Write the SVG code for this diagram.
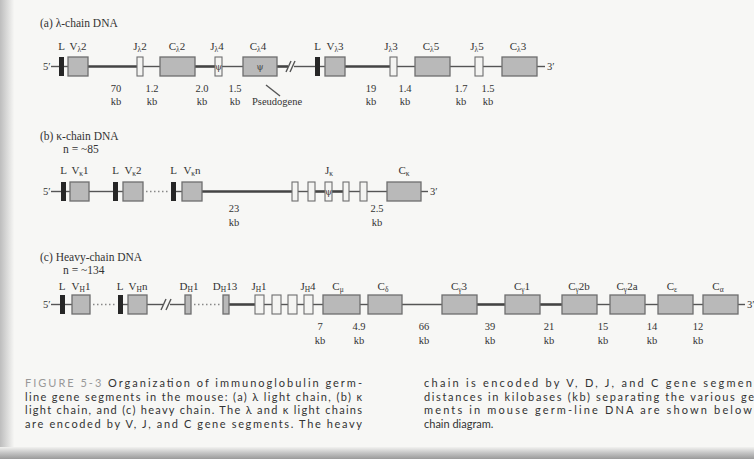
<svg xmlns="http://www.w3.org/2000/svg" width="754" height="459" viewBox="0 0 754 459">
<defs>
<linearGradient id="lg" x1="0" y1="0" x2="1" y2="0"><stop offset="0" stop-color="#bdbdbd"/><stop offset="1" stop-color="#f6f6f4"/></linearGradient>
<linearGradient id="bg" x1="0" y1="0" x2="0" y2="1"><stop offset="0" stop-color="#f2f2f0"/><stop offset="0.5" stop-color="#c4c4c4"/><stop offset="1" stop-color="#9a9a9a"/></linearGradient>
<style>
.g{fill:#b9b9b9;stroke:#6e6e6e;stroke-width:1.3}
.w{fill:#f4f4f2;stroke:#6e6e6e;stroke-width:1.1}
.b{fill:#262626}
.ln{stroke:#555;stroke-width:1.4;fill:none}
.th{stroke:#444;stroke-width:2.6;fill:none}
.dot{stroke:#888;stroke-width:1.3;stroke-dasharray:1.5 2.5;fill:none}
text{font-family:"Liberation Serif","DejaVu Serif",serif;fill:#333}
.t{font-size:11.5px}
.l{font-size:11px;text-anchor:middle}
.n{font-size:10.5px;text-anchor:middle}
.s{font-size:7.5px}
.c{font-family:Lato,"Open Sans",sans-serif;font-size:11px;fill:#333}
.fig{fill:#999}
.psi{font-family:"DejaVu Serif",serif;font-size:9px;text-anchor:middle;fill:#444}
</style>
</defs>
<rect width="754" height="459" fill="#f7f7f5"/>
<rect width="14" height="459" fill="url(#lg)"/>
<rect y="447" width="754" height="12" fill="url(#bg)"/>

<!-- (a) lambda chain -->
<text class="t" x="40" y="27">(a) λ-chain DNA</text>
<g id="connectors-a">
<text class="n" x="43" y="70" style="text-anchor:start">5′</text>
<line class="ln" x1="51" y1="66.5" x2="59" y2="66.5"/>
<line class="ln" x1="64" y1="66.5" x2="68" y2="66.5"/>
<line class="th" x1="88" y1="66.5" x2="137" y2="66.5"/>
<line class="ln" x1="143" y1="66.5" x2="160" y2="66.5"/>
<line class="th" x1="195" y1="66.5" x2="215" y2="66.5"/>
<line class="ln" x1="222" y1="66.5" x2="243" y2="66.5"/>
<line class="th" x1="277" y1="66.5" x2="288" y2="66.5"/>
<line class="ln" x1="286" y1="72" x2="291" y2="61"/>
<line class="ln" x1="290" y1="72" x2="295" y2="61"/>
<line class="ln" x1="294" y1="66.5" x2="315" y2="66.5"/>
<line class="th" x1="345" y1="66.5" x2="390" y2="66.5"/>
<line class="ln" x1="397" y1="66.5" x2="415" y2="66.5"/>
<line class="ln" x1="450" y1="66.5" x2="475" y2="66.5"/>
<line class="ln" x1="483" y1="66.5" x2="502" y2="66.5"/>
<line class="ln" x1="537" y1="66.5" x2="545" y2="66.5"/>
<text class="n" x="547" y="70" style="text-anchor:start">3′</text>
<line class="ln" x1="266" y1="85" x2="280" y2="96"/>
</g>
<g id="a-LV2"><rect class="b" x="59" y="57" width="5" height="19"/><rect class="g" x="68" y="57" width="20" height="19"/>
<text class="l" x="61.5" y="50">L</text><text class="l" x="78" y="50">V<tspan class="s" dy="2">λ</tspan><tspan dy="-2">2</tspan></text></g>
<g id="a-J2"><rect class="w" x="137" y="57" width="6" height="19"/><text class="l" x="140" y="50">J<tspan class="s" dy="2">λ</tspan><tspan dy="-2">2</tspan></text></g>
<g id="a-C2"><rect class="g" x="160" y="57" width="35" height="19"/><text class="l" x="177" y="50">C<tspan class="s" dy="2">λ</tspan><tspan dy="-2">2</tspan></text></g>
<g id="a-J4"><rect class="w" x="215" y="57" width="7" height="19"/><text class="psi" x="218.5" y="70">ψ</text><text class="l" x="217" y="50">J<tspan class="s" dy="2">λ</tspan><tspan dy="-2">4</tspan></text></g>
<g id="a-C4"><rect class="g" x="243" y="57" width="34" height="19"/><text class="psi" x="260" y="70">ψ</text><text class="l" x="258" y="50">C<tspan class="s" dy="2">λ</tspan><tspan dy="-2">4</tspan></text></g>
<g id="a-LV3"><rect class="b" x="315" y="57" width="5" height="19"/><line class="ln" x1="320" y1="66.5" x2="325" y2="66.5"/><rect class="g" x="325" y="57" width="20" height="19"/>
<text class="l" x="317.5" y="50">L</text><text class="l" x="335" y="50">V<tspan class="s" dy="2">λ</tspan><tspan dy="-2">3</tspan></text></g>
<g id="a-J3"><rect class="w" x="390" y="57" width="7" height="19"/><text class="l" x="391" y="50">J<tspan class="s" dy="2">λ</tspan><tspan dy="-2">3</tspan></text></g>
<g id="a-C5"><rect class="g" x="415" y="57" width="35" height="19"/><text class="l" x="431" y="50">C<tspan class="s" dy="2">λ</tspan><tspan dy="-2">5</tspan></text></g>
<g id="a-J5"><rect class="w" x="475" y="57" width="8" height="19"/><text class="l" x="477" y="50">J<tspan class="s" dy="2">λ</tspan><tspan dy="-2">5</tspan></text></g>
<g id="a-C3"><rect class="g" x="502" y="57" width="35" height="19"/><text class="l" x="518" y="50">C<tspan class="s" dy="2">λ</tspan><tspan dy="-2">3</tspan></text></g>
<g id="a-dist">
<text class="n" x="116" y="92">70</text><text class="n" x="116" y="105">kb</text>
<text class="n" x="152" y="92">1.2</text><text class="n" x="152" y="105">kb</text>
<text class="n" x="202" y="92">2.0</text><text class="n" x="202" y="105">kb</text>
<text class="n" x="235" y="92">1.5</text><text class="n" x="235" y="105">kb</text>
<text class="n" x="252" y="105" style="text-anchor:start">Pseudogene</text>
<text class="n" x="371" y="92">19</text><text class="n" x="371" y="105">kb</text>
<text class="n" x="405" y="92">1.4</text><text class="n" x="405" y="105">kb</text>
<text class="n" x="461" y="92">1.7</text><text class="n" x="461" y="105">kb</text>
<text class="n" x="488" y="92">1.5</text><text class="n" x="488" y="105">kb</text>
</g>

<!-- (b) kappa chain -->
<text class="t" x="40" y="140">(b) κ-chain DNA</text>
<text class="t" x="63" y="153">n = ~85</text>
<g id="connectors-b">
<text class="n" x="43" y="195" style="text-anchor:start">5′</text>
<line class="ln" x1="51" y1="191.5" x2="61" y2="191.5"/>
<line class="ln" x1="66" y1="191.5" x2="70" y2="191.5"/>
<line class="ln" x1="89" y1="191.5" x2="113" y2="191.5"/>
<line class="ln" x1="118" y1="191.5" x2="123" y2="191.5"/>
<line class="dot" x1="146" y1="191.5" x2="168" y2="191.5"/>
<line class="ln" x1="176" y1="191.5" x2="182" y2="191.5"/>
<line class="th" x1="202" y1="191.5" x2="292" y2="191.5"/>
<line class="ln" x1="298" y1="191.5" x2="308" y2="191.5"/>
<line class="th" x1="315" y1="191.5" x2="325" y2="191.5"/>
<line class="th" x1="332" y1="191.5" x2="343" y2="191.5"/>
<line class="ln" x1="349" y1="191.5" x2="360" y2="191.5"/>
<line class="ln" x1="367" y1="191.5" x2="387" y2="191.5"/>
<line class="ln" x1="421" y1="191.5" x2="428" y2="191.5"/>
<text class="n" x="430" y="195" style="text-anchor:start">3′</text>
</g>
<g id="b-LV1"><rect class="b" x="61" y="182" width="5" height="19"/><rect class="g" x="70" y="182" width="19" height="19"/>
<text class="l" x="63.5" y="174">L</text><text class="l" x="80" y="174">V<tspan class="s" dy="2">κ</tspan><tspan dy="-2">1</tspan></text></g>
<g id="b-LV2"><rect class="b" x="113" y="182" width="5" height="19"/><rect class="g" x="123" y="182" width="20" height="19"/>
<text class="l" x="115.5" y="174">L</text><text class="l" x="133" y="174">V<tspan class="s" dy="2">κ</tspan><tspan dy="-2">2</tspan></text></g>
<g id="b-LVn"><rect class="b" x="171" y="182" width="5" height="19"/><rect class="g" x="182" y="182" width="20" height="19"/>
<text class="l" x="173.5" y="174">L</text><text class="l" x="192" y="174">V<tspan class="s" dy="2">κ</tspan><tspan dy="-2">n</tspan></text></g>
<g id="b-J"><rect class="w" x="292" y="182" width="6" height="19"/><rect class="w" x="308" y="182" width="7" height="19"/><rect class="w" x="325" y="182" width="7" height="19"/><text class="psi" x="328.5" y="195">ψ</text><rect class="w" x="343" y="182" width="6" height="19"/><rect class="w" x="360" y="182" width="7" height="19"/>
<text class="l" x="329" y="174">J<tspan class="s" dy="2">κ</tspan></text></g>
<g id="b-C"><rect class="g" x="387" y="182" width="34" height="19"/><text class="l" x="404" y="174">C<tspan class="s" dy="2">κ</tspan></text></g>
<g id="b-dist">
<text class="n" x="234" y="212">23</text><text class="n" x="234" y="226">kb</text>
<text class="n" x="377" y="212">2.5</text><text class="n" x="377" y="226">kb</text>
</g>

<!-- (c) heavy chain -->
<text class="t" x="40" y="261">(c) Heavy-chain DNA</text>
<text class="t" x="63" y="274">n = ~134</text>
<g id="connectors-c">
<text class="n" x="43" y="308" style="text-anchor:start">5′</text>
<line class="ln" x1="51" y1="304.5" x2="60" y2="304.5"/>
<line class="ln" x1="65" y1="304.5" x2="72" y2="304.5"/>
<line class="dot" x1="93" y1="304.5" x2="116" y2="304.5"/>
<line class="ln" x1="123" y1="304.5" x2="128" y2="304.5"/>
<line class="ln" x1="147" y1="304.5" x2="163" y2="304.5"/>
<line class="ln" x1="161" y1="310" x2="166" y2="299"/>
<line class="ln" x1="166" y1="310" x2="171" y2="299"/>
<line class="ln" x1="170" y1="304.5" x2="185" y2="304.5"/>
<line class="dot" x1="194" y1="304.5" x2="221" y2="304.5"/>
<line class="th" x1="229" y1="304.5" x2="255" y2="304.5"/>
<line class="ln" x1="264" y1="304.5" x2="272" y2="304.5"/>
<line class="ln" x1="281" y1="304.5" x2="288" y2="304.5"/>
<line class="ln" x1="297" y1="304.5" x2="304" y2="304.5"/>
<line class="ln" x1="313" y1="304.5" x2="323" y2="304.5"/>
<line class="ln" x1="360" y1="304.5" x2="368" y2="304.5"/>
<line class="ln" x1="402" y1="304.5" x2="442" y2="304.5"/>
<line class="th" x1="477" y1="304.5" x2="505" y2="304.5"/>
<line class="th" x1="540" y1="304.5" x2="562" y2="304.5"/>
<line class="ln" x1="597" y1="304.5" x2="610" y2="304.5"/>
<line class="ln" x1="645" y1="304.5" x2="658" y2="304.5"/>
<line class="ln" x1="693" y1="304.5" x2="703" y2="304.5"/>
<line class="ln" x1="738" y1="304.5" x2="745" y2="304.5"/>
<text class="n" x="747" y="308" style="text-anchor:start">3′</text>
</g>
<g id="c-LV1"><rect class="b" x="60" y="295" width="5" height="19"/><rect class="g" x="72" y="295" width="18" height="19"/>
<text class="l" x="62" y="290">L</text><text class="l" x="81" y="290">V<tspan class="s" dy="2">H</tspan><tspan dy="-2">1</tspan></text></g>
<g id="c-LVn"><rect class="b" x="118" y="295" width="5" height="19"/><rect class="g" x="128" y="295" width="19" height="19"/>
<text class="l" x="120" y="290">L</text><text class="l" x="138" y="290">V<tspan class="s" dy="2">H</tspan><tspan dy="-2">n</tspan></text></g>
<g id="c-D1"><rect class="g" x="185" y="295" width="6" height="19"/><text class="l" x="189" y="290">D<tspan class="s" dy="2">H</tspan><tspan dy="-2">1</tspan></text></g>
<g id="c-D13"><rect class="g" x="223" y="295" width="6" height="19"/><text class="l" x="225" y="290">D<tspan class="s" dy="2">H</tspan><tspan dy="-2">13</tspan></text></g>
<g id="c-J"><rect class="w" x="255" y="295" width="9" height="19"/><rect class="w" x="272" y="295" width="9" height="19"/><rect class="w" x="288" y="295" width="9" height="19"/><rect class="w" x="304" y="295" width="9" height="19"/>
<text class="l" x="259" y="290">J<tspan class="s" dy="2">H</tspan><tspan dy="-2">1</tspan></text><text class="l" x="308" y="290">J<tspan class="s" dy="2">H</tspan><tspan dy="-2">4</tspan></text></g>
<g id="c-Cmu"><rect class="g" x="323" y="295" width="37" height="19"/><text class="l" x="338" y="290">C<tspan class="s" dy="2">μ</tspan></text></g>
<g id="c-Cdelta"><rect class="g" x="368" y="295" width="34" height="19"/><text class="l" x="383" y="290">C<tspan class="s" dy="2">δ</tspan></text></g>
<g id="c-Cg3"><rect class="g" x="442" y="295" width="35" height="19"/><text class="l" x="459" y="290">C<tspan class="s" dy="2">γ</tspan><tspan dy="-2">3</tspan></text></g>
<g id="c-Cg1"><rect class="g" x="505" y="295" width="35" height="19"/><text class="l" x="522" y="290">C<tspan class="s" dy="2">γ</tspan><tspan dy="-2">1</tspan></text></g>
<g id="c-Cg2b"><rect class="g" x="562" y="295" width="35" height="19"/><text class="l" x="579" y="290">C<tspan class="s" dy="2">γ</tspan><tspan dy="-2">2b</tspan></text></g>
<g id="c-Cg2a"><rect class="g" x="610" y="295" width="35" height="19"/><text class="l" x="627" y="290">C<tspan class="s" dy="2">γ</tspan><tspan dy="-2">2a</tspan></text></g>
<g id="c-Ceps"><rect class="g" x="658" y="295" width="35" height="19"/><text class="l" x="672" y="290">C<tspan class="s" dy="2">ε</tspan></text></g>
<g id="c-Calpha"><rect class="g" x="703" y="295" width="35" height="19"/><text class="l" x="718" y="290">C<tspan class="s" dy="2">α</tspan></text></g>
<g id="c-dist">
<text class="n" x="320" y="330">7</text><text class="n" x="320" y="344">kb</text>
<text class="n" x="359" y="330">4.9</text><text class="n" x="359" y="344">kb</text>
<text class="n" x="424" y="330">66</text><text class="n" x="424" y="344">kb</text>
<text class="n" x="490" y="330">39</text><text class="n" x="490" y="344">kb</text>
<text class="n" x="549" y="330">21</text><text class="n" x="549" y="344">kb</text>
<text class="n" x="603" y="330">15</text><text class="n" x="603" y="344">kb</text>
<text class="n" x="652" y="330">14</text><text class="n" x="652" y="344">kb</text>
<text class="n" x="698" y="330">12</text><text class="n" x="698" y="344">kb</text>
</g>

<!-- caption -->
<g id="caption">
<text class="c" x="25" y="387" textLength="337" lengthAdjust="spacing"><tspan class="fig">FIGURE 5-3</tspan>  Organization of immunoglobulin germ-</text>
<text class="c" x="25" y="400.5" textLength="337" lengthAdjust="spacing">line gene segments in the mouse: (a) λ light chain, (b) κ</text>
<text class="c" x="25" y="414" textLength="337" lengthAdjust="spacing">light chain, and (c) heavy chain. The λ and κ light chains</text>
<text class="c" x="25" y="427.5" textLength="337" lengthAdjust="spacing">are encoded by V, J, and C gene segments. The heavy</text>
<text class="c" x="424" y="387" textLength="328" lengthAdjust="spacing">chain is encoded by V, D, J, and C gene segmen</text>
<text class="c" x="424" y="400.5" textLength="330" lengthAdjust="spacing">distances in kilobases (kb) separating the various ge</text>
<text class="c" x="424" y="414" textLength="328" lengthAdjust="spacing">ments in mouse germ-line DNA are shown below</text>
<text class="c" x="424" y="427.5">chain diagram.</text>
</g>
</svg>
